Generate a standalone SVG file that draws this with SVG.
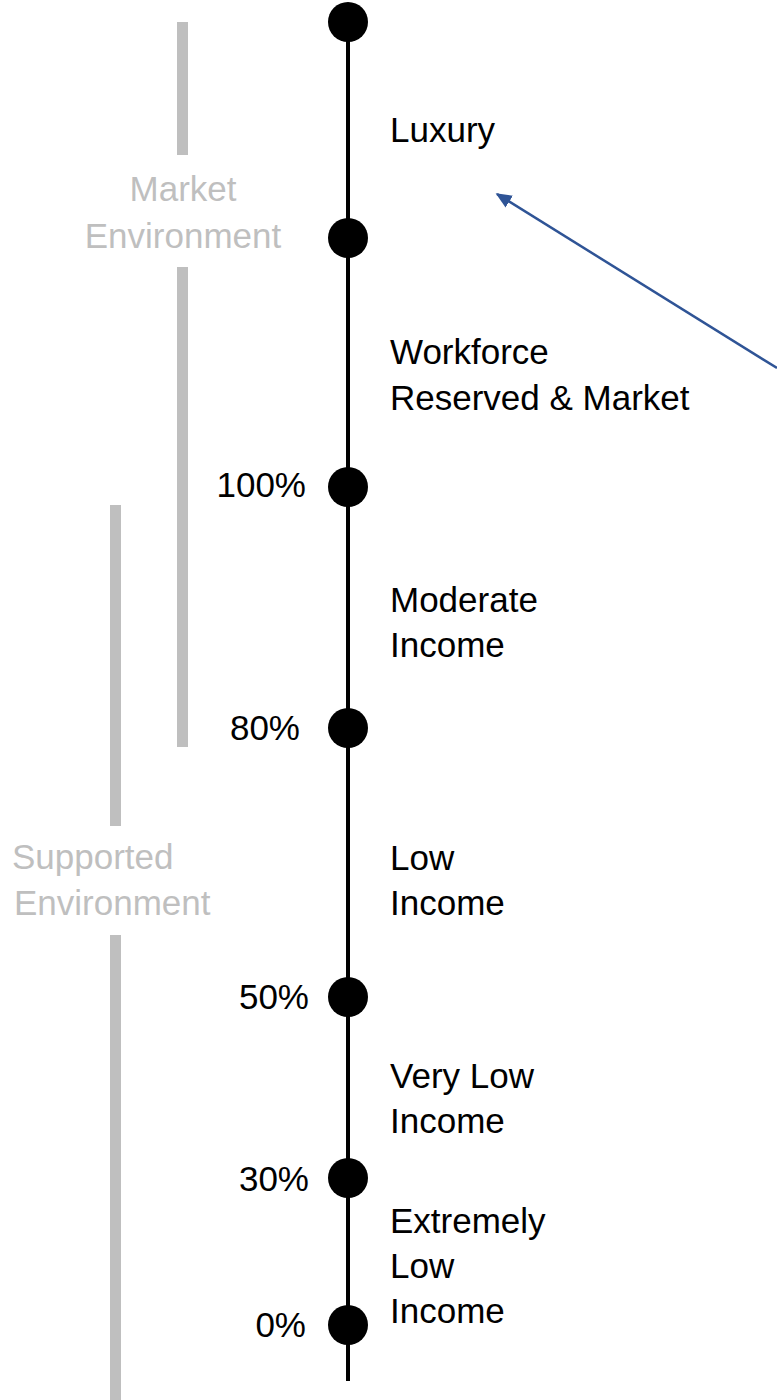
<svg xmlns="http://www.w3.org/2000/svg" width="777" height="1400" viewBox="0 0 777 1400">
<defs>
<style>
.t{font-family:"Liberation Sans",Arial,sans-serif;font-size:35px;fill:#000}
.g{font-family:"Liberation Sans",Arial,sans-serif;font-size:35px;fill:#BFBFBF}
.bar{fill:#BFBFBF}
.dot{fill:#000}
</style>
<marker id="ah" viewBox="0 0 10 10" refX="9" refY="5" markerWidth="16" markerHeight="14" orient="auto-start-reverse" markerUnits="userSpaceOnUse" preserveAspectRatio="none">
<path d="M0,0 L10,5 L0,10 z" fill="#2F5496"/>
</marker>
</defs>
<g id="brackets">
<rect class="bar" x="177" y="22" width="11" height="133"/>
<rect class="bar" x="177" y="267" width="11" height="480"/>
<rect class="bar" x="110" y="505" width="11" height="321"/>
<rect class="bar" x="110" y="935" width="11" height="465"/>
<text class="g" x="183" y="201" text-anchor="middle">Market</text>
<text class="g" x="183" y="248" text-anchor="middle">Environment</text>
<text class="g" x="12" y="869">Supported</text>
<text class="g" x="14" y="915">Environment</text>
</g>
<g id="connectors">
<line x1="348" y1="22" x2="348" y2="1381" stroke="#000" stroke-width="4"/>
<line x1="777" y1="368" x2="497" y2="194" stroke="#2F5496" stroke-width="2.5" marker-end="url(#ah)"/>
</g>
<g id="node-top"><circle class="dot" cx="348" cy="22" r="20"/></g>
<g id="node-luxury"><circle class="dot" cx="348" cy="238" r="20"/><text class="t" x="390" y="142">Luxury</text></g>
<g id="node-100"><circle class="dot" cx="348" cy="487" r="20"/><text class="t" x="306" y="497" text-anchor="end">100%</text><text class="t" x="390" y="364">Workforce</text><text class="t" x="390" y="410">Reserved &amp; Market</text></g>
<g id="node-80"><circle class="dot" cx="348" cy="728" r="20"/><text class="t" x="300" y="740" text-anchor="end">80%</text><text class="t" x="390" y="612">Moderate</text><text class="t" x="390" y="657">Income</text></g>
<g id="node-50"><circle class="dot" cx="348" cy="997" r="20"/><text class="t" x="309" y="1009" text-anchor="end">50%</text><text class="t" x="390" y="870">Low</text><text class="t" x="390" y="915">Income</text></g>
<g id="node-30"><circle class="dot" cx="348" cy="1178" r="20"/><text class="t" x="309" y="1191" text-anchor="end">30%</text><text class="t" x="390" y="1088">Very Low</text><text class="t" x="390" y="1133">Income</text></g>
<g id="node-0"><circle class="dot" cx="348" cy="1325" r="20"/><text class="t" x="306" y="1337" text-anchor="end">0%</text><text class="t" x="390" y="1233">Extremely</text><text class="t" x="390" y="1278">Low</text><text class="t" x="390" y="1323">Income</text></g>
</svg>
